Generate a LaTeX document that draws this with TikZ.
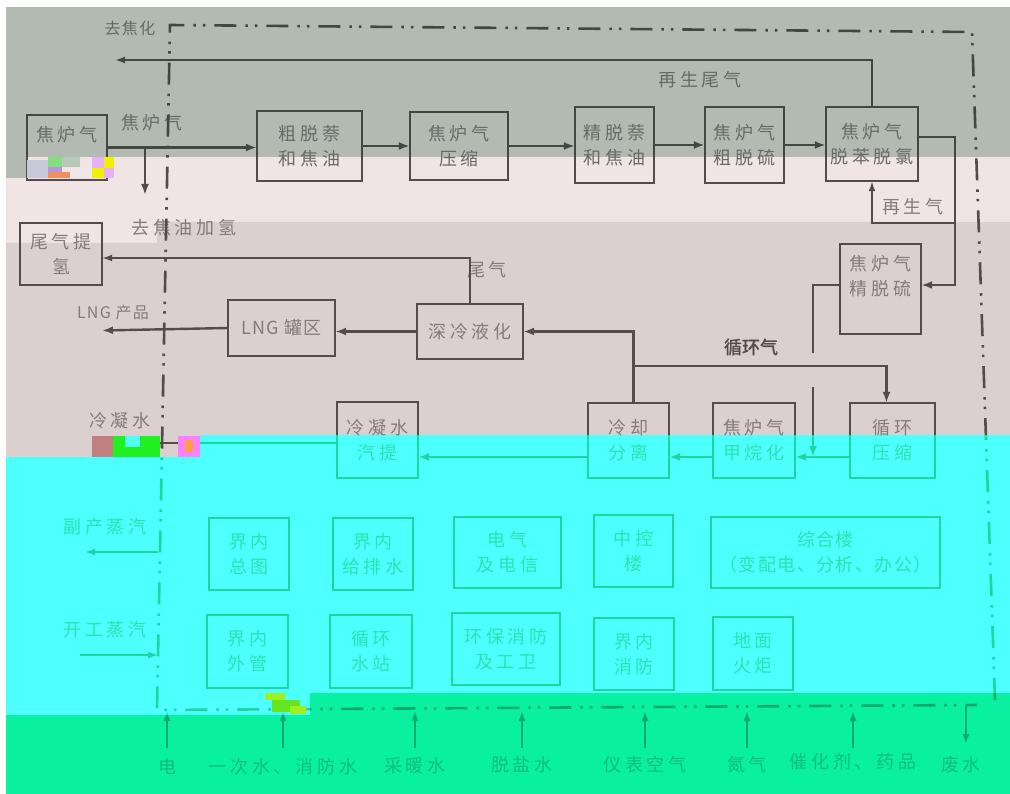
\documentclass[tikz,border=0pt]{standalone}
\usepackage{fontspec}
\usetikzlibrary{arrows.meta}
\newfontfamily\cjk[LetterSpace=22]{Noto Sans CJK SC}
\newfontfamily\cjkn[LetterSpace=8]{Noto Sans CJK SC}
\newfontfamily\cjkb[FakeBold=1.5]{Noto Sans CJK SC}
\definecolor{bgG}{HTML}{B3BAB2}
\definecolor{bgP1}{HTML}{F1E4E4}
\definecolor{bgP2}{HTML}{DCCFD0}
\definecolor{bgC}{HTML}{4DFFFD}
\definecolor{bgN}{HTML}{08F0A0}
\definecolor{tG}{HTML}{676B67}
\definecolor{tP}{HTML}{857B7C}
\definecolor{tC}{HTML}{2BE3B0}
\definecolor{tN}{HTML}{12BE7C}
\definecolor{lG}{HTML}{434643}
\definecolor{lP}{HTML}{534C4D}
\definecolor{lC}{HTML}{1CD69E}
\definecolor{lN}{HTML}{0DAA6C}
\colorlet{ln}{lG}
\tikzset{
  bx/.style={draw=none, inner sep=0pt, align=center, font=\cjk\fontsize{18}{25}\selectfont},
  lb/.style={inner sep=0pt, font=\cjk\fontsize{18}{25}\selectfont},
  bxl/.style={draw=ln, line width=1.8pt},
  main/.style={draw=ln, line width=2.4pt, -{Latex[length=11pt,width=8pt]}},
  mainplain/.style={draw=ln, line width=2.4pt},
  thin/.style={draw=ln, line width=1.8pt, -{Latex[length=10pt,width=7pt]}},
  bnd/.style={draw=ln, line width=2.6pt, dash pattern=on 22pt off 9pt on 2.5pt off 7pt on 2.5pt off 9pt},
}
\newcommand\drawlines{%
  \foreach \n in {src,b1,b2,b3,b4,b5,b6,b7,b8,b9,b10,b11,b12,b13,u1,u2,u3,u4,u5,u6,u7,u8,u9,u10}
    \draw[bxl] (\n.north west) rectangle (\n.south east);
  \draw[main] (src.east) -- (src.east -| b1.west);
  \draw[main] (b1.east) -- (b1.east -| b2.west);
  \draw[main] (b2.east) -- (b2.east -| b3.west);
  \draw[main] (b3.east) -- (b3.east -| b4.west);
  \draw[main] (b4.east) -- (b4.east -| b5.west);
  \draw[main] (jq) -- (jqe);
  \draw[thin] (b5.north) |- (tojh);
  \draw[main] ([yshift=7pt]b5.east) -| (rv) -- ([yshift=4pt]b6.east);
  \draw[thin] (rg) -| (b5.south);
  \draw[mainplain] ([yshift=4pt]b6.west) -| (c1);
  \draw[main] (c2) -- (j1);
  \draw[main] ([xshift=5pt]b11.north) |- (b9.east);
  \draw[main] (cy) -| ([xshift=-6pt]b13.north);
  \draw[main] (b13.west |- j1) -- (b12.east |- j1);
  \draw[main] (b12.west |- j1) -- (b11.east |- j1);
  \draw[main] (b11.west |- j1) -- (b10.east |- j1);
  \draw[thin] ([yshift=-3pt]b10.west) -- (cw);
  \draw[main] (b9.west) -- (b9.west -| b8.east);
  \draw[main] (b8.west) -- (lng);
  \draw[thin] (b9.north) |- ([yshift=-4pt]b7.east);
  \draw[thin] (s1a) -- (s1b);
  \draw[thin] (s2a) -- (s2b);
  \foreach \l in {lb1,lb2,lb3,lb4,lb5,lb6,lb7}
    \draw[thin] (\l |- bs) -- (\l |- bl);
  \draw[thin] (fw1) -- (fw2);
  \draw[bnd] (995,700) -- (972,32) -- (170,25) -- (157,710) -- (977,705);
}
\begin{document}
\begin{tikzpicture}[x=1pt,y=-1pt]
\useasboundingbox (0,0) rectangle (1010,794);
\fill[white] (0,0) rectangle (1010,794);
% background bands
\fill[bgG] (6,7) rectangle (1010,157);
\fill[bgG] (6,157) rectangle (27,178);
\fill[bgP1] (27,157) rectangle (1010,222);
\fill[bgP1] (6,178) rectangle (157,243);
\fill[bgP2] (157,222) -- (1010,222) -- (1010,435) -- (200,435) -- (200,457) -- (6,457) -- (6,243) -- (157,243) -- cycle;
\fill[bgC] (200,435) -- (1010,435) -- (1010,693) -- (310,693) -- (310,715) -- (6,715) -- (6,457) -- (200,457) -- cycle;
\fill[bgN] (6,715) -- (310,715) -- (310,693) -- (1010,693) -- (1010,794) -- (6,794) -- cycle;

% boxes (text once)
\node[bx, text=tG, minimum width=80pt, minimum height=65pt] (src) at (67,147.5) {焦炉气\\\phantom{焦炉气}};
\node[bx, text=tG, minimum width=105pt, minimum height=70pt] (b1) at (309.5,146) {粗脱萘\\和焦油};
\node[bx, text=tG, minimum width=98pt, minimum height=68pt] (b2) at (459,146) {焦炉气\\压缩};
\node[bx, text=tG, minimum width=79pt, minimum height=76pt] (b3) at (614.5,145) {精脱萘\\和焦油};
\node[bx, text=tG, minimum width=79pt, minimum height=76pt] (b4) at (744.5,145) {焦炉气\\粗脱硫};
\node[bx, text=tG, minimum width=92pt, minimum height=74pt] (b5) at (872,144) {焦炉气\\脱苯脱氯};
\node[bx, text=tP, minimum width=81pt, minimum height=90pt] (b6) at (880.5,289) {焦炉气\\精脱硫\\\phantom{焦}};
\node[bx, text=tP, minimum width=82pt, minimum height=62pt] (b7) at (61,254) {尾气提\\氢};
\node[bx, text=tP, minimum width=107pt, minimum height=55pt, font=\cjkn\fontsize{18}{25}\selectfont] (b8) at (281.5,328) {LNG 罐区};
\node[bx, text=tP, minimum width=106pt, minimum height=55pt] (b9) at (470,331.5) {深冷液化};
\node[bx, minimum width=81pt, minimum height=76pt] (b10) at (377.5,440) {\textcolor{tP}{冷凝水}\\\textcolor{tC}{汽提}};
\node[bx, minimum width=81pt, minimum height=75pt] (b11) at (628.5,440.5) {\textcolor{tP}{冷却}\\\textcolor{tC}{分离}};
\node[bx, minimum width=82pt, minimum height=75pt] (b12) at (754,440.5) {\textcolor{tP}{焦炉气}\\\textcolor{tC}{甲烷化}};
\node[bx, minimum width=85pt, minimum height=75pt] (b13) at (892.5,440.5) {\textcolor{tP}{循环}\\\textcolor{tC}{压缩}};
\node[bx, text=tC, minimum width=80pt, minimum height=72pt] (u1) at (249,554) {界内\\总图};
\node[bx, text=tC, minimum width=80pt, minimum height=72pt] (u2) at (373,554) {界内\\给排水};
\node[bx, text=tC, minimum width=107pt, minimum height=71pt] (u3) at (507.5,552.5) {电气\\及电信};
\node[bx, text=tC, minimum width=79pt, minimum height=72pt] (u4) at (633.5,551) {中控\\楼};
\node[bx, text=tC, minimum width=229pt, minimum height=71pt, font=\cjkn\fontsize{18}{25}\selectfont] (u5) at (825.5,552.5) {综合楼\\（变配电、分析、办公）};
\node[bx, text=tC, minimum width=81pt, minimum height=73pt] (u6) at (247.5,651.5) {界内\\外管};
\node[bx, text=tC, minimum width=82pt, minimum height=73pt] (u7) at (371,651.5) {循环\\水站};
\node[bx, text=tC, minimum width=108pt, minimum height=72pt] (u8) at (506,649) {环保消防\\及工卫};
\node[bx, text=tC, minimum width=80pt, minimum height=72pt] (u9) at (634,654) {界内\\消防};
\node[bx, text=tC, minimum width=80pt, minimum height=73pt] (u10) at (753,653.5) {地面\\火炬};

% labels
\node[lb, text=tG, font=\cjkn\fontsize{16}{20}\selectfont] (l1) at (130,28) {去焦化};
\node[lb, text=tG] (l2) at (700,80) {再生尾气};
\node[lb, text=tG] (l3) at (152,123) {焦炉气};
\node[lb, text=tP] (l4) at (184,228) {去焦油加氢};
\node[lb, text=tP] (l5) at (913,207) {再生气};
\node[lb, text=tP] (l6) at (487,270) {尾气};
\node[lb, text=tP, font=\cjkn\fontsize{16}{20}\selectfont] (l7) at (113,312) {LNG 产品};
\node[lb, text=lP, font=\cjkb\fontsize{18}{20}\selectfont] (l8) at (751,347) {循环气};
\node[lb, text=tP] (l9) at (120,421) {冷凝水};
\node[lb, text=tC] (l10) at (105,527) {副产蒸汽};
\node[lb, text=tC] (l11) at (105,630) {开工蒸汽};
\node[lb, text=tN] (lb1) at (167,767) {电};
\node[lb, text=tN] (lb2) at (283,767) {一次水、消防水};
\node[lb, text=tN] (lb3) at (415,766) {采暖水};
\node[lb, text=tN] (lb4) at (522,765) {脱盐水};
\node[lb, text=tN] (lb5) at (645,765) {仪表空气};
\node[lb, text=tN] (lb6) at (747,765) {氮气};
\node[lb, text=tN] (lb7) at (853,762) {催化剂、药品};
\node[lb, text=tN] (lb8) at (961,765) {废水};

% free ends / junctions
\coordinate (jq) at (145,147.5);
\coordinate (jqe) at (145,195);
\coordinate (tojh) at (115,60);
\coordinate (rv) at (955,285);
\coordinate (rg) at (955,223);
\coordinate (c1) at (813,353);
\coordinate (c2) at (813,387);
\coordinate (j1) at (813,457);
\coordinate (cy) at (633.5,366);
\coordinate (cw) at (95,443);
\coordinate (lng) at (102,330.5);
\coordinate (s1a) at (158,552);
\coordinate (s1b) at (85,552);
\coordinate (s2a) at (80,655);
\coordinate (s2b) at (158,655);
\coordinate (bs) at (0,748);
\coordinate (bl) at (0,711);
\coordinate (fw1) at (966,705);
\coordinate (fw2) at (966,744);

% lines, coloured band by band
\begin{scope}
  \clip (0,0) rectangle (1010,157);
  \colorlet{ln}{lG}\drawlines
\end{scope}
\begin{scope}
  \clip (0,157) rectangle (1010,435) (0,435) rectangle (200,457);
  \colorlet{ln}{lP}\drawlines
\end{scope}
\begin{scope}
  \clip (200,435) -- (1010,435) -- (1010,693) -- (310,693) -- (310,715) -- (0,715) -- (0,457) -- (200,457) -- cycle;
  \colorlet{ln}{lC}\drawlines
\end{scope}
\begin{scope}
  \clip (0,715) -- (310,715) -- (310,693) -- (1010,693) -- (1010,794) -- (0,794) -- cycle;
  \colorlet{ln}{lN}\drawlines
\end{scope}

% image noise blocks
\fill[color={rgb,255:red,200;green,200;blue,216}] (27,160) rectangle (48,178);
\fill[color={rgb,255:red,128;green,224;blue,128}] (48,157) rectangle (62,167);
\fill[color={rgb,255:red,192;green,144;blue,224}] (48,167) rectangle (62,172);
\fill[color={rgb,255:red,240;green,144;blue,96}] (48,172) rectangle (70,178);
\fill[color={rgb,255:red,184;green,200;blue,184}] (62,157) rectangle (80,167);
\fill[color={rgb,255:red,240;green,232;blue,232}] (70,167) rectangle (92,178);
\fill[color={rgb,255:red,232;green,176;blue,248}] (92,157) rectangle (104,168);
\fill[color={rgb,255:red,240;green,240;blue,0}] (104,157) rectangle (114,168);
\fill[color={rgb,255:red,240;green,240;blue,0}] (92,168) rectangle (104,178);
\fill[color={rgb,255:red,232;green,176;blue,248}] (104,168) rectangle (114,178);
\fill[color={rgb,255:red,192;green,128;blue,128}] (92,436) rectangle (113,457);
\fill[color={rgb,255:red,32;green,240;blue,32}] (113,436) rectangle (160,457);
\fill[color={rgb,255:red,80;green,255;blue,240}] (125,436) rectangle (140,447);
\fill[color={rgb,255:red,255;green,128;blue,255}] (178,436) rectangle (200,457);
\fill[color={rgb,255:red,255;green,160;blue,64}] (185,440) rectangle (193,452);
\fill[color={rgb,255:red,160;green,240;blue,32}] (265,693) rectangle (285,700);
\fill[color={rgb,255:red,100;green,230;blue,30}] (272,700) rectangle (300,712);
\fill[color={rgb,255:red,160;green,240;blue,32}] (290,706) rectangle (306,714);
\end{tikzpicture}
\end{document}
